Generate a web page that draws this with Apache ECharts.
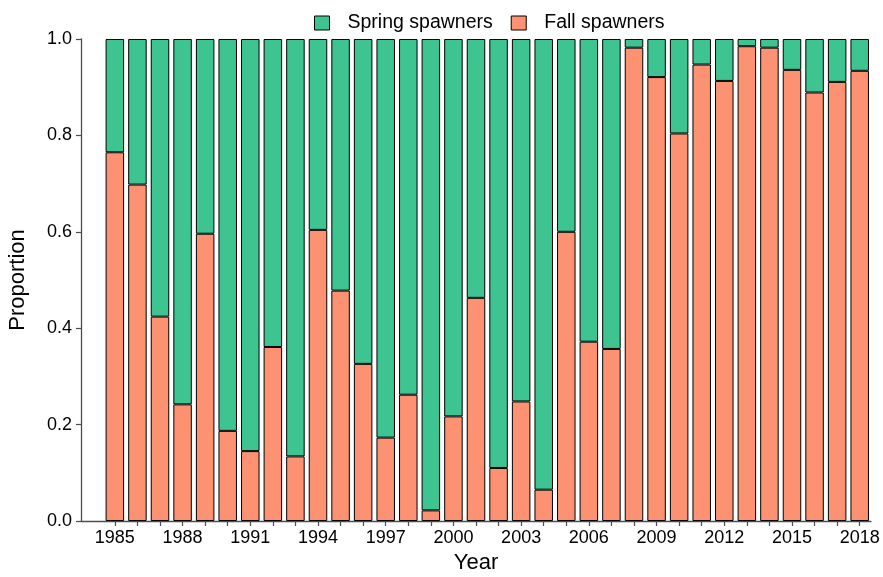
<!DOCTYPE html>
<html>
<head>
<meta charset="utf-8">
<script src="https://cdn.jsdelivr.net/npm/echarts@6/dist/echarts.min.js"></script>
<style>
  html, body { margin: 0; padding: 0; background: #fff; }
  #chart { width: 883px; height: 577px; }
</style>
</head>
<body>
<div id="chart"></div>
<script>
// years and proportions
var years = [1985, 1986, 1987, 1988, 1989, 1990, 1991, 1992, 1993, 1994,
             1995, 1996, 1997, 1998, 1999, 2000, 2001, 2002, 2003, 2004,
             2005, 2006, 2007, 2008, 2009, 2010, 2011, 2012, 2013, 2014,
             2015, 2016, 2017, 2018];
var fallProp = [0.765, 0.698, 0.424, 0.242, 0.596, 0.187, 0.145, 0.361, 0.134, 0.604,
                0.478, 0.326, 0.173, 0.262, 0.022, 0.217, 0.463, 0.110, 0.248, 0.065,
                0.600, 0.372, 0.357, 0.982, 0.921, 0.804, 0.947, 0.913, 0.985, 0.982,
                0.936, 0.889, 0.911, 0.934];
var springProp = [0.235, 0.302, 0.576, 0.758, 0.404, 0.813, 0.855, 0.639, 0.866, 0.396,
                  0.522, 0.674, 0.827, 0.738, 0.978, 0.783, 0.537, 0.890, 0.752, 0.935,
                  0.400, 0.628, 0.643, 0.018, 0.079, 0.196, 0.053, 0.087, 0.015, 0.018,
                  0.064, 0.111, 0.089, 0.066];

var FONT = "'Liberation Sans', Arial, sans-serif";
var GREEN = '#3dc491';
var SALMON = '#fd9273';
var AXIS = '#4d4d4d';

// one empty slot before 1985 (the plot leaves room on the left)
var cats = [''].concat(years.map(String));
var fallData = [null].concat(fallProp);
var springData = [null].concat(springProp);

var myChart = echarts.init(document.getElementById('chart'), null, {renderer: 'canvas'});

var option = {
    animation: false,
    backgroundColor: '#fff',
    textStyle: {fontFamily: FONT},
    legend: {
        top: 8,
        left: 309,
        itemWidth: 15,
        itemHeight: 14,
        itemGap: 18,
        icon: 'rect',
        data: ['Spring spawners', 'Fall spawners'],
        textStyle: {fontSize: 19.5, color: '#000', fontFamily: FONT, padding: [0, 0, 0, 13]},
        itemStyle: {borderColor: '#000', borderWidth: 1}
    },
    grid: {left: 81, right: 12, top: 39, bottom: 56, containLabel: false, outerBoundsMode: 'none'},
    xAxis: {
        type: 'category',
        data: cats,
        name: 'Year',
        nameLocation: 'middle',
        nameGap: 31,
        nameMoveOverlap: false,
        nameTextStyle: {fontSize: 22, color: '#000', fontFamily: FONT},
        axisLine: {show: true, lineStyle: {color: AXIS, width: 1.3}},
        axisTick: {
            show: true,
            alignWithLabel: true,
            length: 5,
            lineStyle: {color: AXIS, width: 1.2},
            interval: function (index) { return index > 0; }
        },
        axisLabel: {
            fontSize: 18,
            color: '#000',
            margin: 8,
            fontFamily: FONT,
            interval: function (index, value) {
                return value !== '' && (Number(value) - 1985) % 3 === 0;
            }
        },
        splitLine: {show: false}
    },
    yAxis: {
        type: 'value',
        min: 0,
        max: 1,
        interval: 0.2,
        name: 'Proportion',
        nameLocation: 'middle',
        nameGap: 52,
        nameMoveOverlap: false,
        nameTextStyle: {fontSize: 22, color: '#000', fontFamily: FONT},
        axisLine: {show: true, lineStyle: {color: AXIS, width: 1.3}},
        axisTick: {show: true, length: 5, lineStyle: {color: AXIS, width: 1.2}},
        axisLabel: {
            fontSize: 18,
            color: '#000',
            margin: 9,
            fontFamily: FONT,
            formatter: function (v) { return v.toFixed(1); }
        },
        splitLine: {show: false}
    },
    series: [
        {
            name: 'Fall spawners',
            type: 'bar',
            stack: 'prop',
            data: fallData,
            barWidth: '82%',
            itemStyle: {color: SALMON, borderColor: '#000', borderWidth: 1}
        },
        {
            name: 'Spring spawners',
            type: 'bar',
            stack: 'prop',
            data: springData,
            barWidth: '82%',
            itemStyle: {color: GREEN, borderColor: '#000', borderWidth: 1}
        }
    ]
};

myChart.setOption(option);
</script>
</body>
</html>
